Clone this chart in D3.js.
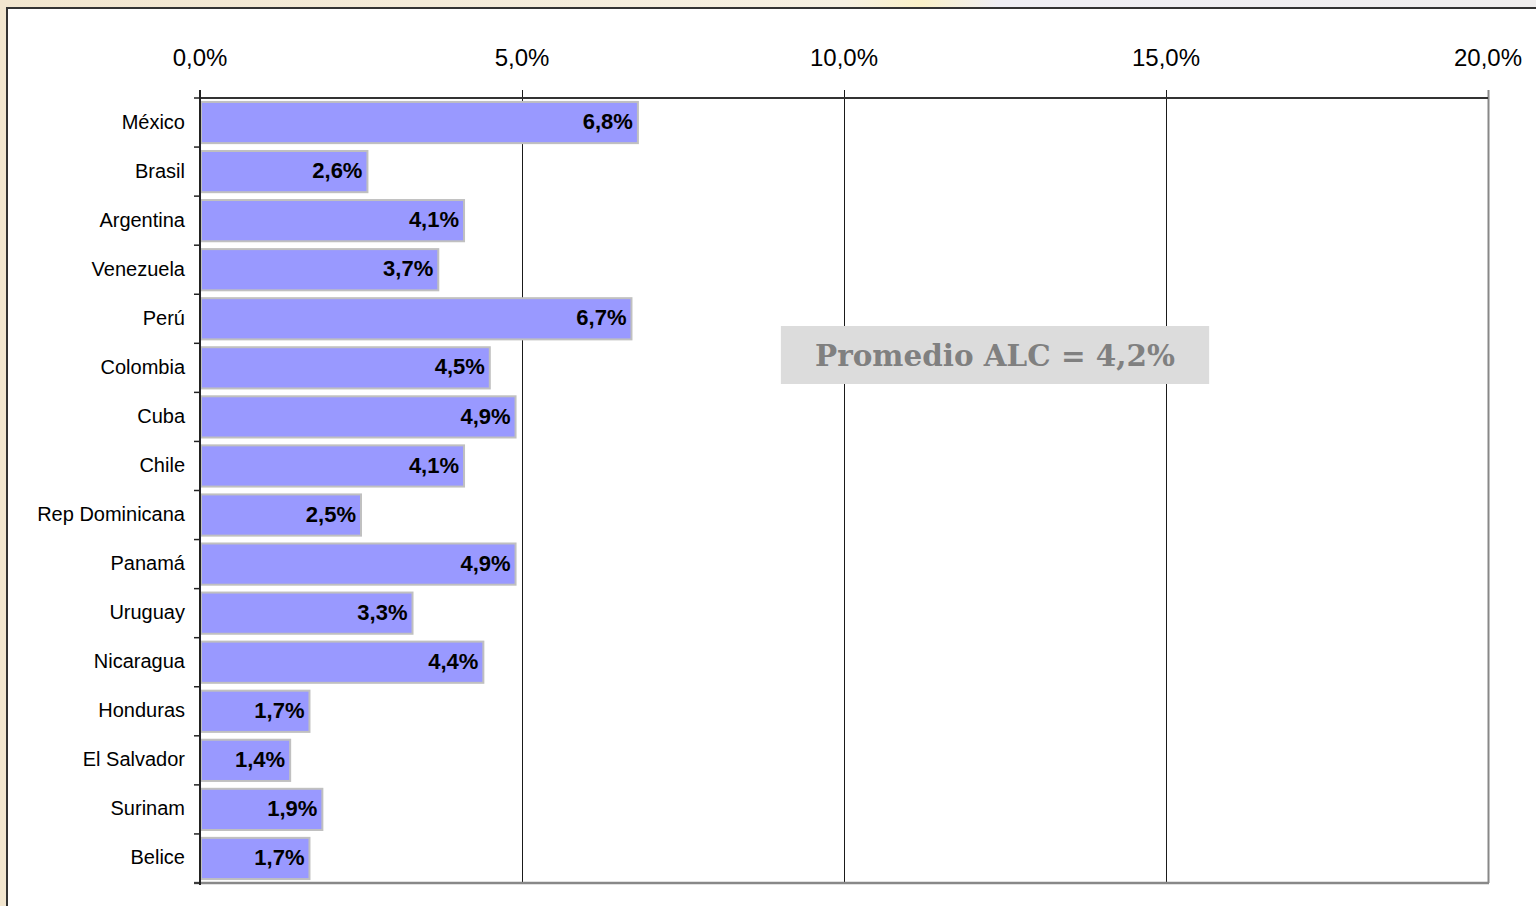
<!DOCTYPE html>
<html><head><meta charset="utf-8">
<script src="https://cdn.jsdelivr.net/npm/d3@7"></script>
<style>
html,body{margin:0;padding:0;background:#f0ece4;overflow:hidden}
svg{display:block}
</style></head>
<body>
<svg id="c" width="1536" height="906"></svg>
<script>
const categories = ["México","Brasil","Argentina","Venezuela","Perú","Colombia","Cuba","Chile","Rep Dominicana","Panamá","Uruguay","Nicaragua","Honduras","El Salvador","Surinam","Belice"];
const values = [6.8,2.6,4.1,3.7,6.7,4.5,4.9,4.1,2.5,4.9,3.3,4.4,1.7,1.4,1.9,1.7];
const tickValues = [0,5,10,15,20];
const tickLabels = ["0,0%","5,0%","10,0%","15,0%","20,0%"];
const annotation = "Promedio ALC = 4,2%";

(function(){
const svg = d3.select("#c");
const defs = svg.append("defs");
const g1 = defs.append("linearGradient").attr("id","bg").attr("x1","0").attr("y1","0").attr("x2","1").attr("y2","0");
g1.append("stop").attr("offset","0").attr("stop-color","#f2e6cf");
g1.append("stop").attr("offset","0.55").attr("stop-color","#f6f0e2");
g1.append("stop").attr("offset","0.6").attr("stop-color","#faf1c8");
g1.append("stop").attr("offset","0.65").attr("stop-color","#efeef4");
g1.append("stop").attr("offset","1").attr("stop-color","#f0eeee");
svg.append("rect").attr("width",1536).attr("height",906).attr("fill","url(#bg)");

// frame
svg.append("rect").attr("x",7).attr("y",8).attr("width",1540).attr("height",910)
  .attr("fill","#ffffff").attr("stroke","#333").attr("stroke-width",2);

const pL=200, pR=1488, pT=98, pB=883;
const x = d3.scaleLinear().domain([0,20]).range([pL,pR]);
const y = d3.scaleBand().domain(categories).range([pT,pB]).paddingInner(0.16).paddingOuter(0.08);

// gridlines + top ticks
svg.append("g").selectAll("line").data(tickValues).join("line")
  .attr("x1",d=>x(d)+0.5).attr("x2",d=>x(d)+0.5).attr("y1",pT-8).attr("y2",pB)
  .attr("stroke",d=>d===20?"#888":"#1a1a1a").attr("stroke-width",d=>d===20?2:1);

// bars
svg.append("g").selectAll("rect").data(values).join("rect")
  .attr("x",x(0)+1).attr("y",(d,i)=>y(categories[i]))
  .attr("width",d=>x(d)-x(0)-1).attr("height",y.bandwidth())
  .attr("fill","#9999ff").attr("stroke","#c0c0c0").attr("stroke-width",2);

// value labels
svg.append("g").selectAll("text").data(values).join("text")
  .attr("x",d=>x(d)-5).attr("y",(d,i)=>y(categories[i])+y.bandwidth()/2)
  .attr("dy","0.3em").attr("text-anchor","end")
  .attr("font-family","Liberation Sans, Arial, sans-serif").attr("font-weight","bold")
  .attr("font-size",22).attr("fill","#000")
  .text(d=>d.toFixed(1).replace(".",",")+"%");

// bottom border
svg.append("line").attr("x1",pL-6).attr("x2",pR+1).attr("y1",pB).attr("y2",pB)
  .attr("stroke","#888").attr("stroke-width",2.5);
// top axis line
svg.append("line").attr("x1",pL).attr("x2",pR).attr("y1",pT).attr("y2",pT)
  .attr("stroke","#333").attr("stroke-width",2);
// left axis
svg.append("line").attr("x1",pL).attr("x2",pL).attr("y1",pT-8).attr("y2",pB+2)
  .attr("stroke","#222").attr("stroke-width",2);
// left ticks at band boundaries
const bounds = categories.map(c=>y(c)-y.step()*y.paddingInner()/2).concat([pB]);
svg.append("g").selectAll("line").data(bounds).join("line")
  .attr("x1",pL-6).attr("x2",pL).attr("y1",d=>d).attr("y2",d=>d)
  .attr("stroke","#222").attr("stroke-width",1.5);

// tick labels
svg.append("g").selectAll("text").data(tickValues).join("text")
  .attr("x",d=>x(d)).attr("y",66).attr("text-anchor","middle")
  .attr("font-family","Liberation Sans, Arial, sans-serif").attr("font-size",24).attr("fill","#000")
  .text((d,i)=>tickLabels[i]);

// category labels
svg.append("g").selectAll("text").data(categories).join("text")
  .attr("x",185).attr("y",d=>y(d)+y.bandwidth()/2).attr("dy","0.3em").attr("text-anchor","end")
  .attr("font-family","Liberation Sans, Arial, sans-serif").attr("font-size",20).attr("fill","#000")
  .text(d=>d);

// annotation
const ax0 = x(9.02), ax1 = x(15.67);
svg.append("rect").attr("x",ax0).attr("y",326).attr("width",ax1-ax0).attr("height",58).attr("fill","#dcdcdc");
svg.append("text").attr("x",(ax0+ax1)/2).attr("y",366).attr("text-anchor","middle")
  .attr("font-family","DejaVu Serif, serif").attr("font-weight","bold").attr("font-size",30)
  .attr("fill","#808080").attr("textLength",360).attr("lengthAdjust","spacingAndGlyphs")
  .text(annotation);
})();
</script>
</body></html>
